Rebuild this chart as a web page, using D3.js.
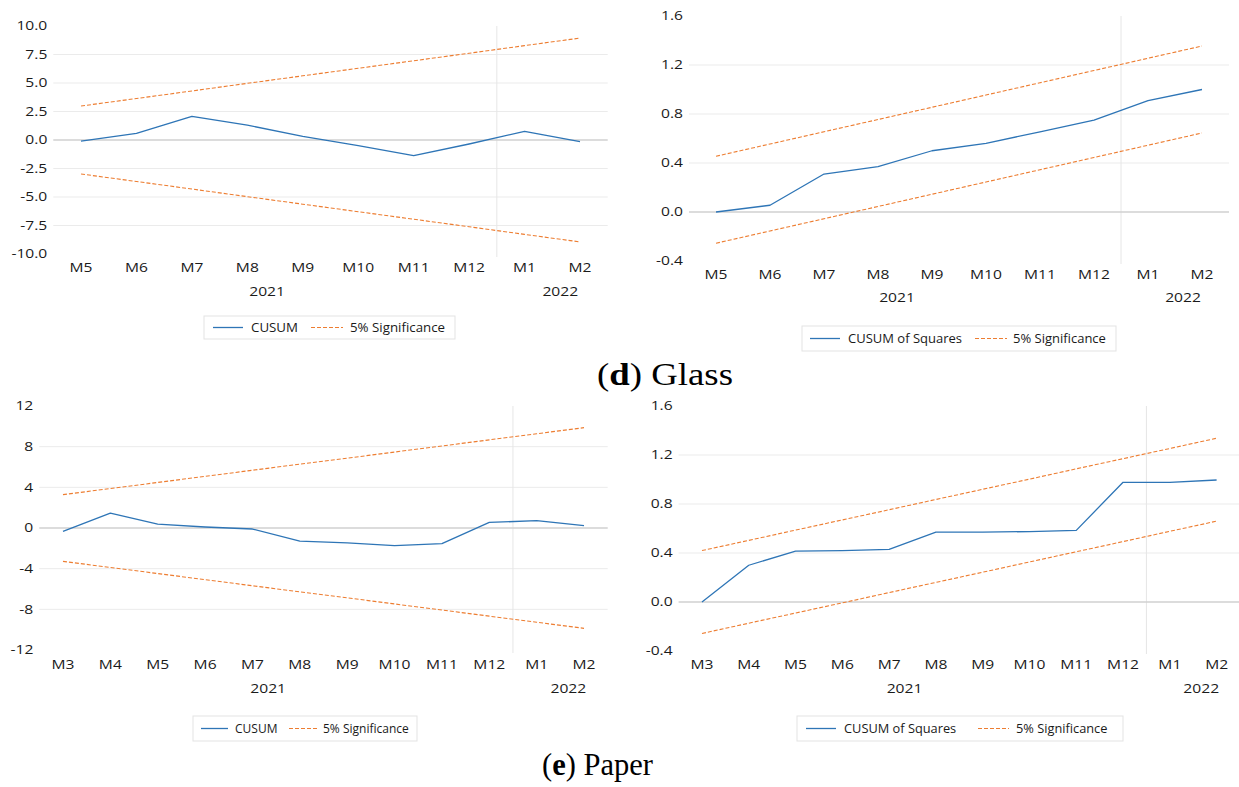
<!DOCTYPE html>
<html>
<head>
<meta charset="utf-8">
<script src="https://cdn.jsdelivr.net/npm/d3@7/dist/d3.min.js"></script>
<style>
  html, body { margin: 0; padding: 0; background: #fff; }
  svg { display: block; }
  .tick-label { font-family: "Open Sans", "Noto Sans", sans-serif; font-size: 12.2px; fill: #1a1a1a; }
  .legend-text { font-family: "Open Sans", "Noto Sans", sans-serif; fill: #1a1a1a; }
  .caption { font-family: "Liberation Serif", "DejaVu Serif", serif; font-size: 31px; fill: #000; }
</style>
</head>
<body>
<svg id="chart" width="1239" height="787"></svg>
<script>
// ---------------- DATA ----------------
const glassMonths = ["M5","M6","M7","M8","M9","M10","M11","M12","M1","M2"];
const glassYears = ["2021","2022"];
const glassYearSplit = 8; // first index of 2022 months

const glassCusum      = [-0.1, 0.58, 2.08, 1.3, 0.32, -0.5, -1.37, -0.35, 0.76, -0.15];
const glassCusumUpper = [2.98, 3.64, 4.30, 4.97, 5.63, 6.29, 6.95, 7.61, 8.28, 8.94];
const glassCusumLower = [-2.98, -3.64, -4.30, -4.97, -5.63, -6.29, -6.95, -7.61, -8.28, -8.94];
const glassCusumTicks = [-10, -7.5, -5, -2.5, 0, 2.5, 5, 7.5, 10];

const glassCusumSq      = [0.0, 0.055, 0.31, 0.37, 0.5, 0.56, 0.655, 0.75, 0.91, 1.0];
const glassCusumSqUpper = [0.455, 0.555, 0.655, 0.755, 0.855, 0.955, 1.055, 1.155, 1.255, 1.355];
const glassCusumSqLower = [-0.255, -0.155, -0.055, 0.045, 0.145, 0.245, 0.345, 0.445, 0.545, 0.645];
const cusumSqTicks = [-0.4, 0, 0.4, 0.8, 1.2, 1.6];

const paperMonths = ["M3","M4","M5","M6","M7","M8","M9","M10","M11","M12","M1","M2"];
const paperYears = ["2021","2022"];
const paperYearSplit = 10;

const paperCusum      = [-0.33, 1.47, 0.39, 0.1, -0.1, -1.3, -1.47, -1.74, -1.54, 0.55, 0.72, 0.23];
const paperCusumUpper = [3.28, 3.88, 4.48, 5.08, 5.68, 6.28, 6.87, 7.47, 8.07, 8.67, 9.27, 9.87];
const paperCusumLower = [-3.28, -3.88, -4.48, -5.08, -5.68, -6.28, -6.87, -7.47, -8.07, -8.67, -9.27, -9.87];
const paperCusumTicks = [-12, -8, -4, 0, 4, 8, 12];

const paperCusumSq      = [0.0, 0.30, 0.415, 0.42, 0.43, 0.57, 0.57, 0.575, 0.585, 0.977, 0.977, 0.996];
const paperCusumSqUpper = [0.42, 0.503, 0.587, 0.67, 0.753, 0.837, 0.92, 1.003, 1.087, 1.17, 1.253, 1.337];
const paperCusumSqLower = [-0.257, -0.173, -0.09, -0.007, 0.077, 0.16, 0.243, 0.327, 0.41, 0.493, 0.577, 0.66];

const legendCusum = ["CUSUM", "5% Significance"];
const legendCusumSq = ["CUSUM of Squares", "5% Significance"];

// ---------------- DRAW ----------------
const svg = d3.select("#chart");
const BLUE = "#2e75b6", ORANGE = "#ed7d31";
const SX = 1.28; // horizontal stretch of axis labels, as in the source image
const locale = d3.formatLocale({ decimal: ".", thousands: ",", grouping: [3], currency: ["", ""], minus: "-" });

function label(g, x, y, anchor, txt) {
  g.append("text").attr("class", "tick-label")
    .attr("transform", `translate(${x},${y}) scale(${SX},1)`)
    .attr("dy", "0.35em").attr("text-anchor", anchor).text(txt);
}

function drawPanel(o) {
  const g = svg.append("g");
  const x = d3.scaleBand().domain(o.months).range([o.left, o.right]);
  const y = d3.scaleLinear().domain([o.ticks[0], o.ticks[o.ticks.length - 1]]).range([o.bottom, o.top]);
  const cx = m => x(m) + x.bandwidth() / 2;

  // horizontal gridlines (interior)
  g.selectAll(".grid").data(o.ticks.slice(1, -1).filter(t => t !== 0)).enter().append("line")
    .attr("x1", o.left).attr("x2", o.right)
    .attr("y1", d => y(d)).attr("y2", d => y(d))
    .attr("stroke", "#ebebeb").attr("stroke-width", 1);

  // year separator
  const sepX = x(o.months[o.split]);
  g.append("line").attr("x1", sepX).attr("x2", sepX)
    .attr("y1", o.top).attr("y2", o.bottom + 3)
    .attr("stroke", "#e6e6e6").attr("stroke-width", 1);

  // zero line
  g.append("line").attr("x1", o.left).attr("x2", o.right)
    .attr("y1", y(0)).attr("y2", y(0))
    .attr("stroke", "#d0d0d0").attr("stroke-width", 1.5);

  // y tick labels
  o.ticks.forEach(t => label(g, o.left - 6, y(t), "end", locale.format(o.fmt)(t)));

  // x tick labels
  o.months.forEach(m => label(g, cx(m), o.xLabelY, "middle", m));

  // year labels
  const groups = [o.months.slice(0, o.split), o.months.slice(o.split)];
  o.years.forEach((yr, i) => {
    const gx = (cx(groups[i][0]) + cx(groups[i][groups[i].length - 1])) / 2 + (i === 0 ? -8 : 8);
    label(g, gx, o.yearY, "middle", yr);
  });

  const line = d3.line().x((d, i) => cx(o.months[i])).y(d => y(d));
  g.append("path").attr("d", line(o.upper)).attr("fill", "none")
    .attr("stroke", ORANGE).attr("stroke-width", 1.1).attr("stroke-dasharray", "4,2");
  g.append("path").attr("d", line(o.lower)).attr("fill", "none")
    .attr("stroke", ORANGE).attr("stroke-width", 1.1).attr("stroke-dasharray", "4,2");
  g.append("path").attr("d", line(o.values)).attr("fill", "none")
    .attr("stroke", BLUE).attr("stroke-width", 1.3).attr("stroke-linejoin", "round");

  // legend
  const L = o.legend;
  const lg = g.append("g");
  lg.append("rect").attr("x", L.x).attr("y", L.y).attr("width", L.w).attr("height", L.h)
    .attr("fill", "#fff").attr("stroke", "#e3e3e3");
  const my = L.y + L.h / 2;
  lg.append("line").attr("x1", L.l1[0]).attr("x2", L.l1[1]).attr("y1", my).attr("y2", my)
    .attr("stroke", BLUE).attr("stroke-width", 1.3);
  lg.append("text").attr("class", "legend-text").attr("font-size", L.fs)
    .attr("x", L.t1).attr("y", my).attr("dy", "0.35em").text(o.legendLabels[0]);
  lg.append("line").attr("x1", L.l2[0]).attr("x2", L.l2[1]).attr("y1", my).attr("y2", my)
    .attr("stroke", ORANGE).attr("stroke-width", 1.1).attr("stroke-dasharray", "4,2");
  lg.append("text").attr("class", "legend-text").attr("font-size", L.fs)
    .attr("x", L.t2).attr("y", my).attr("dy", "0.35em").text(o.legendLabels[1]);
}

drawPanel({
  months: glassMonths, years: glassYears, split: glassYearSplit,
  values: glassCusum, upper: glassCusumUpper, lower: glassCusumLower,
  ticks: glassCusumTicks, fmt: ".1f",
  left: 53.3, right: 607.7, top: 26, bottom: 254, xLabelY: 268, yearY: 292,
  legend: { x: 204, y: 316, w: 251, h: 23, l1: [213, 243], t1: 251, l2: [311, 343], t2: 350, fs: 13.3 },
  legendLabels: legendCusum
});

drawPanel({
  months: glassMonths, years: glassYears, split: glassYearSplit,
  values: glassCusumSq, upper: glassCusumSqUpper, lower: glassCusumSqLower,
  ticks: cusumSqTicks, fmt: ".1f",
  left: 689, right: 1229, top: 16, bottom: 261, xLabelY: 275, yearY: 298,
  legend: { x: 802, y: 326, w: 314, h: 25, l1: [810, 840], t1: 848, l2: [975, 1007], t2: 1013, fs: 13 },
  legendLabels: legendCusumSq
});

drawPanel({
  months: paperMonths, years: paperYears, split: paperYearSplit,
  values: paperCusum, upper: paperCusumUpper, lower: paperCusumLower,
  ticks: paperCusumTicks, fmt: "d",
  left: 39.3, right: 607.7, top: 406, bottom: 650, xLabelY: 665, yearY: 689,
  legend: { x: 193, y: 716, w: 224, h: 25, l1: [201, 228], t1: 235, l2: [289, 317], t2: 323, fs: 12 },
  legendLabels: legendCusum
});

drawPanel({
  months: paperMonths, years: paperYears, split: paperYearSplit,
  values: paperCusumSq, upper: paperCusumSqUpper, lower: paperCusumSqLower,
  ticks: cusumSqTicks, fmt: ".1f",
  left: 678.6, right: 1240, top: 406, bottom: 651, xLabelY: 665, yearY: 689,
  legend: { x: 797, y: 716, w: 326, h: 25, l1: [806, 836], t1: 844, l2: [978, 1009], t2: 1016, fs: 12.8 },
  legendLabels: legendCusumSq
});

// captions
function caption(letter, word, x0, baseline, width) {
  const t = svg.append("text").attr("class", "caption").attr("x", x0).attr("y", baseline)
    .attr("textLength", width).attr("lengthAdjust", "spacingAndGlyphs");
  t.append("tspan").text("(");
  t.append("tspan").attr("font-weight", "bold").text(letter);
  t.append("tspan").text(") " + word);
}
caption("d", "Glass", 597, 385, 136);
caption("e", "Paper", 542, 775, 111);
</script>
</body>
</html>
